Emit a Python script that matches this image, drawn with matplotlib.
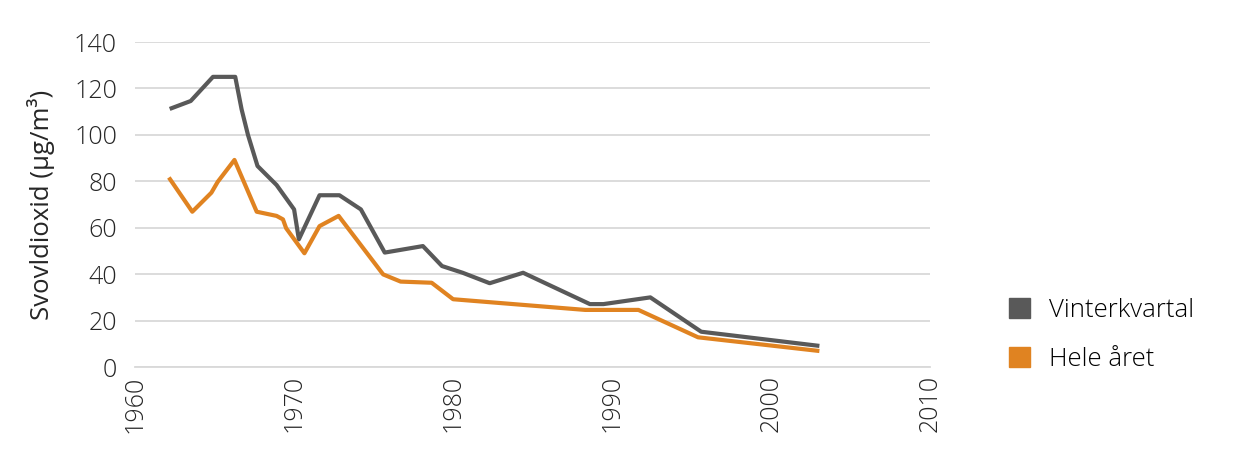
import matplotlib
matplotlib.use('Agg')
import matplotlib.pyplot as plt
from matplotlib.patches import Patch

plt.rcParams['font.family'] = ['Open Sans', 'DejaVu Sans']
plt.rcParams['font.weight'] = 'light'

# Vinterkvartal
vinter_year = [1962.3, 1963.5, 1964.9, 1966.3, 1966.7, 1967.1, 1967.7, 1968.9, 1970.0, 1970.3,
               1971.6, 1972.85, 1974.2, 1975.7, 1978.1, 1979.3, 1980.6, 1982.3, 1984.4, 1988.6,
               1989.45, 1992.4, 1995.6, 2002.9]
vinter_val = [111.5, 114.6, 125, 125, 111, 100, 86.6, 78.4, 67.9, 55,
              74, 74, 67.9, 49.3, 52.1, 43.5, 40.6, 36.1, 40.6, 27.1,
              27.1, 30, 15.2, 9.2]

# Hele året
hele_year = [1962.2, 1963.6, 1964.8, 1965.2, 1966.25, 1967.65, 1968.9, 1969.3, 1969.5, 1970.65,
             1971.6, 1972.8, 1975.6, 1976.7, 1978.65, 1980.0, 1988.3, 1991.65, 1995.4, 2002.9]
hele_val = [80.9, 66.9, 75.1, 79.8, 89.2, 66.9, 65.1, 63.6, 59.8, 49,
            60.7, 65.1, 39.9, 36.8, 36.3, 29.2, 24.6, 24.6, 12.8, 7.0]

labels = ['Vinterkvartal', 'Hele året']
colors = ['#595959', '#E08321']

fig = plt.figure(figsize=(12.39, 4.62), dpi=100)
ax = fig.add_axes([0.109, 0.2056, 0.6418, 0.7034])

ax.plot(vinter_year, vinter_val, color=colors[0], lw=3, solid_joinstyle='round', zorder=3)
ax.plot(hele_year, hele_val, color=colors[1], lw=3, solid_joinstyle='round', zorder=3)

ax.set_xlim(1960, 2010)
ax.set_ylim(0, 140)
ax.set_xticks(range(1960, 2011, 10))
ax.set_yticks(range(0, 141, 20))
ax.grid(axis='y', color='#d9d9d9', lw=1.3)
ax.set_axisbelow(True)
for s in ['top', 'right', 'left']:
    ax.spines[s].set_visible(False)
ax.spines['bottom'].set_color('#d9d9d9')
ax.spines['bottom'].set_linewidth(1.3)
ax.tick_params(axis='both', length=0, labelsize=18, labelcolor='#262626')
ax.tick_params(axis='y', pad=13)
ax.tick_params(axis='x', pad=6)
plt.setp(ax.get_xticklabels(), rotation=90)
ax.set_ylabel('Svovldioxid (µg/m³)', fontsize=18.5, color='#262626', labelpad=14)

handles = [Patch(color=c) for c in colors]
fig.legend(handles, labels, loc='center left', bbox_to_anchor=(0.796, 0.275), frameon=False,
           fontsize=18.5, handlelength=0.8, handleheight=0.8, labelspacing=0.95, handletextpad=0.75)

fig.savefig('out.png', dpi=100)
